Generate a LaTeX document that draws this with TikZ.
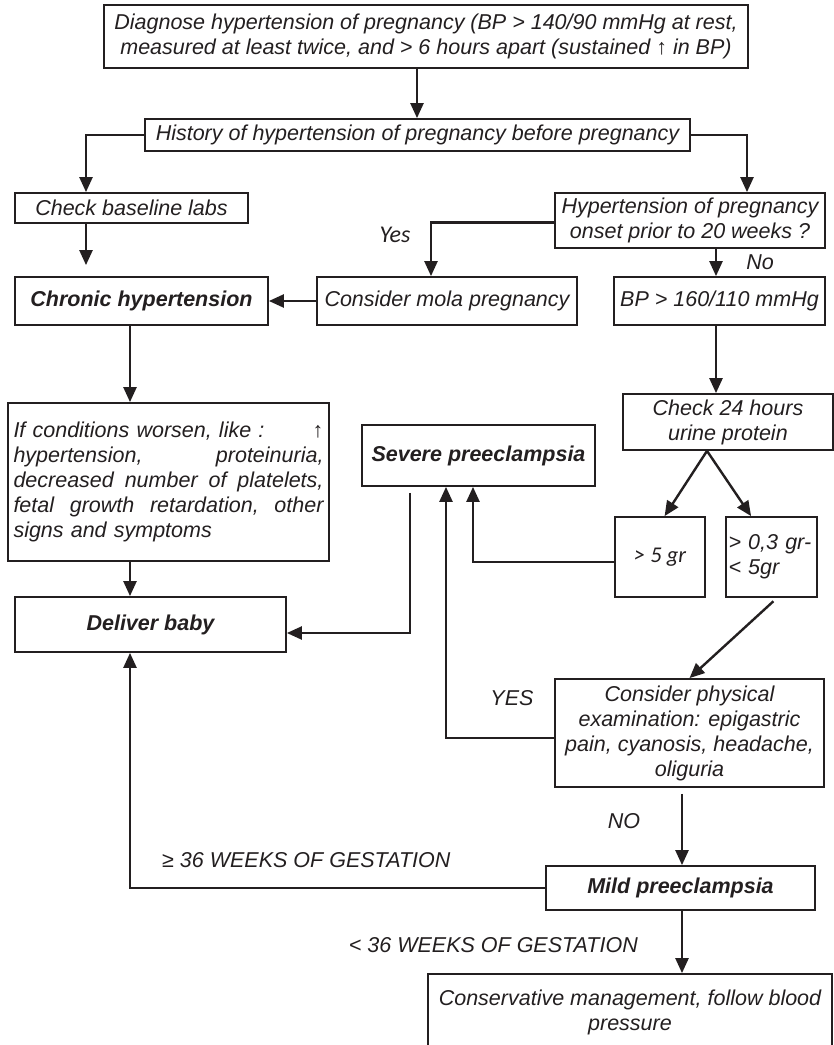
\documentclass[tikz,border=0pt]{standalone}
\usepackage{fontspec}
\setmainfont{Liberation Sans}
\newfontfamily\califont{Carlito}
\usetikzlibrary{arrows.meta,calc}
\definecolor{ink}{RGB}{35,31,32}
% one full-width justified line of the worsening-conditions box
\newcommand\fullline[1]{\leavevmode\hbox to 310pt{#1}}
\begin{document}
\begin{tikzpicture}[x=1pt,y=-1pt,
  every node/.style={font=\fontsize{21.5}{25}\selectfont\itshape, text=ink},
  box/.style={draw=ink, line width=1.8pt, inner sep=0pt, align=center},
  strong/.style={font=\fontsize{21.5}{25}\selectfont\bfseries\itshape},
  link/.style={draw=ink, line width=2.4pt},
  arr/.style={link, -{Triangle[length=15pt,width=13pt]}},
  lbl/.style={inner sep=0pt}]
\useasboundingbox (0,0) rectangle (834,1045);
\fill[white] (0,0) rectangle (834,1045);

% ---- boxes ----
\node[box, minimum width=644pt, minimum height=63pt] (diag) at (426,36.5)
  {Diagnose hypertension of pregnancy (BP > 140/90 mmHg at rest,\\
   measured at least twice, and > 6 hours apart (sustained ↑ in BP)};
\node[box, minimum width=545pt, minimum height=32pt] (hist) at (417.5,135)
  {History of hypertension of pregnancy before pregnancy};
\node[box, minimum width=233pt, minimum height=30pt] (base) at (131.5,208)
  {Check baseline labs};
\node[box, minimum width=270pt, minimum height=55pt] (onset) at (690,220.5)
  {Hypertension of pregnancy\\onset prior to 20 weeks ?};
\node[box, strong, minimum width=253pt, minimum height=48pt] (chron) at (141.5,301)
  {Chronic hypertension};
\node[box, minimum width=260pt, minimum height=48pt] (mola) at (447,301)
  {Consider mola pregnancy};
\node[box, minimum width=211pt, minimum height=48pt] (bp) at (719.5,301)
  {BP > 160/110 mmHg};
\node[box, minimum width=210pt, minimum height=56pt] (chk) at (728,422)
  {Check 24 hours\\urine protein};
\node[box, align=left, text width=310pt, minimum width=321pt, minimum height=158pt] (ifb) at (168.5,482)
  {\fullline{If conditions worsen, like :\hfill ↑}\\
   \fullline{hypertension,\hfill proteinuria,}\\
   \fullline{decreased\hfill number\hfill of\hfill platelets,}\\
   \fullline{fetal\hfill growth\hfill retardation,\hfill other}\\
   signs and symptoms};
\node[box, strong, minimum width=233pt, minimum height=61pt] (sev) at (478.5,455.5)
  {Severe preeclampsia};
\node[box, minimum width=90pt, minimum height=80pt] (gt5) at (660,557)
  {\califont\fontsize{22.5}{26}\selectfont > 5 gr};
\node[box, align=left, text width=86pt, minimum width=91pt, minimum height=80pt] (gt03) at (771.5,557)
  {> 0,3 gr-\\< 5gr};
\node[box, strong, minimum width=271pt, minimum height=55pt] (deliv) at (150.5,624.5)
  {Deliver baby};
\node[box, minimum width=269pt, minimum height=108pt] (phys) at (689.5,733)
  {Consider physical\\examination: epigastric\\pain, cyanosis, headache,\\oliguria};
\node[box, strong, minimum width=269pt, minimum height=44pt] (mild) at (680.5,888)
  {Mild preeclampsia};
\node[box, minimum width=404pt, minimum height=76pt] (cons) at (630,1012)
  {Conservative management, follow blood\\pressure};

% ---- connector columns ----
\coordinate (cTop) at (417,0);
\coordinate (cL) at (86,0);
\coordinate (cR) at (747,0);
\coordinate (cY) at (431,0);
\coordinate (cN) at (716,0);
\coordinate (cA) at (130,0);
\coordinate (cS1) at (473,0);
\coordinate (cS2) at (446,0);
\coordinate (cS3) at (410,0);
\coordinate (cD) at (0,633);
\coordinate (cM) at (682,0);
\coordinate (split) at (707,0);

% ---- connectors ----
\draw[arr] (diag.south -| cTop) -- (hist.north -| cTop);
\draw[arr] (hist.west) -| (base.north -| cL);
\draw[arr] (hist.east) -| (onset.north -| cR);
\draw[arr, shorten >=11pt] (base.south -| cL) -- (chron.north -| cL);
\draw[arr] ([yshift=-2pt]onset.west) -| (mola.north -| cY);
\draw[arr] (mola.west) -- (chron.east);
\draw[arr] (onset.south -| cN) -- (bp.north -| cN);
\draw[arr] (bp.south -| cN) -- (chk.north -| cN);
\draw[arr] (chk.south -| split) -- ($(gt5.north west)!0.55!(gt5.north east)$);
\draw[arr] (chk.south -| split) -- ($(gt03.north west)!0.28!(gt03.north east)$);
\draw[arr, shorten <=5pt] ($(gt03.south west)!0.56!(gt03.south east)$) -- (phys.north);
\draw[arr] ([yshift=-5pt]gt5.west) -| (sev.south -| cS1);
\draw[arr] ([yshift=-5pt]phys.west) -| (sev.south -| cS2);
\draw[arr, shorten <=6pt] (sev.south -| cS3) |- (deliv.east |- cD);
\draw[arr] (chron.south -| cA) -- (ifb.north -| cA);
\draw[arr] (ifb.south -| cA) -- (deliv.north -| cA);
\draw[arr, shorten <=6pt] (phys.south -| cM) -- (mild.north -| cM);
\draw[arr] (mild.west) -| (deliv.south -| cA);
\draw[arr] (mild.south -| cM) -- (cons.north -| cM);

% ---- branch labels ----
\node[lbl, font=\califont\fontsize{24}{28}\selectfont\itshape] (lyes) at (395,235) {Yes};
\node[lbl] (lno) at (760,262) {No};
\node[lbl] (lYES) at (512,698) {YES};
\node[lbl] (lNO) at (624,821) {NO};
\node[lbl, anchor=west] (lge) at (162,860) {≥ 36 WEEKS OF GESTATION};
\node[lbl, anchor=east] (llt) at (638,945) {< 36 WEEKS OF GESTATION};
\end{tikzpicture}
\end{document}
